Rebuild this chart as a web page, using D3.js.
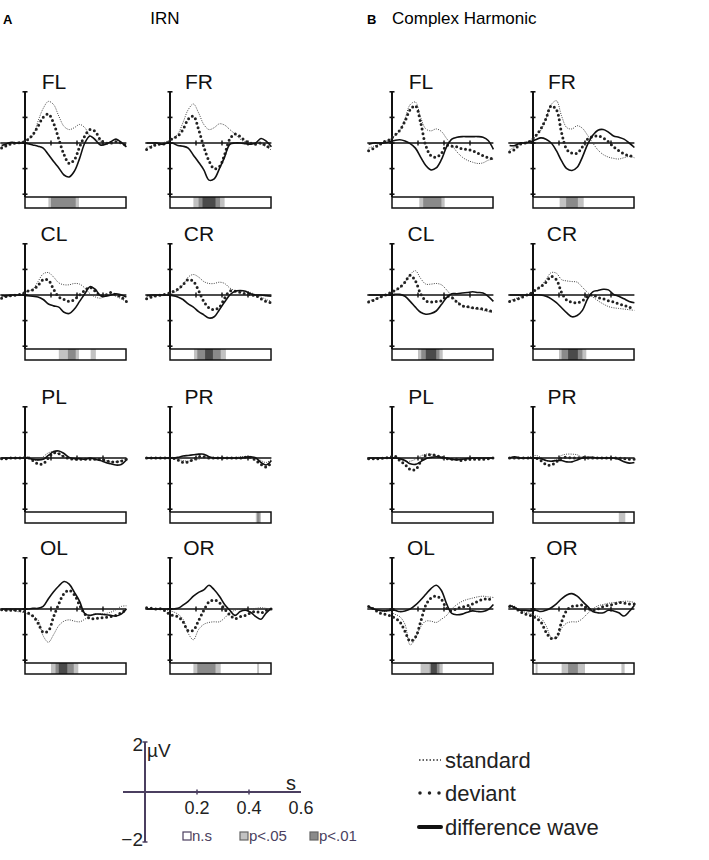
<!DOCTYPE html>
<html><head><meta charset="utf-8">
<script src="https://cdn.jsdelivr.net/npm/d3@7"></script>
<style>body{margin:0;background:#fff}svg{display:block;font-family:"Liberation Sans",Arial,sans-serif}</style>
</head><body>
<script>
const times=[-0.18,-0.14,-0.10,-0.06,-0.02,0.02,0.06,0.10,0.14,0.18,0.22,0.26,0.30,0.34,0.38,0.42,0.46,0.50,0.54,0.58,0.62,0.66,0.70,0.74,0.78];
const electrodes=["FL","FR","CL","CR","PL","PR","OL","OR"];
const conditions=["IRN","Complex Harmonic"];
const conditionLetters=["A","B"];

// IRN (panel A), order = electrodes
const irnStandard=[
[-0.3,-0.1,0,0.05,0.1,0.3,0.55,1.7,2.7,3.25,3.0,2.1,1.3,1.05,1.2,1.45,1.2,0.55,0.3,0.15,0,0.1,0.25,0,-0.3],
[-0.35,-0.2,-0.05,0,0.15,0.35,0.7,1.6,2.6,3.05,2.35,1.45,1.05,1.2,1.5,1.4,1.05,0.7,0.3,0.05,0,0,-0.1,-0.3,-0.55],
[-0.15,-0.1,-0.05,0,0.1,0.3,0.45,1.05,1.65,1.75,1.4,0.95,0.8,0.8,0.9,0.85,0.55,0.1,-0.15,-0.25,-0.05,0,-0.1,-0.3,-0.5],
[-0.15,-0.1,-0.05,-0.05,0,0.15,0.35,0.8,1.4,1.6,1.4,1.05,0.9,0.9,1.0,0.9,0.55,0.35,0.3,0.3,0.2,0,-0.15,-0.35,-0.5],
[0,0,0,0,0,0.1,-0.1,-0.2,0.1,0.4,0.5,0.3,0.1,0,0,0,0,0,0,0,-0.2,-0.3,-0.3,-0.2,-0.1],
[0,0,0,0,0,0.05,-0.1,-0.2,-0.25,-0.15,-0.1,0,0,0,0,0,0,0,0.1,0.1,0.1,0.05,-0.2,-0.35,-0.1],
[-0.1,-0.1,-0.1,-0.2,-0.25,-0.4,-0.55,-0.85,-2.1,-2.6,-2.0,-1.3,-0.95,-0.85,-0.95,-1.0,-0.8,-0.5,-0.4,-0.4,-0.35,-0.25,-0.05,0.2,0.25],
[0,0,0,0,-0.1,-0.2,-0.4,-0.8,-1.9,-2.4,-1.6,-1.2,-1.05,-1.0,-1.0,-0.7,-0.3,-0.1,0,0,0,0.05,0.1,0.05,0]
];
const irnDeviant=[
[-0.4,-0.2,-0.05,0,0.05,0.25,0.65,1.3,2.0,2.25,1.55,0.3,-0.9,-1.6,-1.3,-0.3,0.55,1.05,0.9,0.25,0,0,0.1,0,-0.2],
[-0.5,-0.3,-0.1,-0.1,0,0.35,0.55,1.05,1.85,2.1,1.05,-0.3,-1.4,-2.0,-1.85,-0.9,0.3,0.7,0.5,0.15,0,-0.1,0,-0.2,-0.45],
[-0.25,-0.1,-0.05,0,0.1,0.3,0.4,0.75,1.2,1.15,0.45,-0.15,-0.35,-0.5,-0.35,0,0.35,0.6,0.3,-0.05,0,0.2,0,-0.15,-0.5],
[-0.3,-0.15,-0.05,0,0.1,0.25,0.45,0.8,1.2,1.05,0.35,-0.5,-1.0,-1.15,-0.95,-0.25,0.3,0.3,0.2,0.1,0,-0.05,-0.3,-0.5,-0.6],
[-0.05,-0.05,0,0,0,0.05,-0.2,-0.45,-0.45,0,0.4,0.35,0.1,-0.05,-0.1,-0.1,-0.1,-0.1,-0.1,-0.1,-0.2,-0.3,-0.3,-0.25,-0.1],
[0,0,0,0,0,0,-0.15,-0.35,-0.3,-0.1,0.1,0.1,0,0,0,0,0,0,0,0.05,0.05,-0.2,-0.5,-0.7,-0.35],
[-0.05,-0.1,-0.1,-0.1,-0.15,-0.3,-0.55,-1.1,-1.8,-1.7,-0.6,0.4,1.2,1.45,1.1,0.3,-0.4,-0.75,-0.75,-0.7,-0.65,-0.6,-0.5,-0.3,-0.05],
[0.1,0.05,0,0,-0.3,-0.5,-0.6,-1.0,-1.7,-1.65,-0.9,-0.1,0.55,0.7,0.5,0,-0.45,-0.75,-0.6,-0.5,-0.3,-0.2,-0.3,-0.1,0]
];
const irnDifference=[
[-0.2,-0.05,0.05,0,0,-0.05,-0.15,-0.25,-0.4,-0.9,-1.45,-1.95,-2.5,-2.65,-2.2,-1.2,0,0.55,0.25,-0.15,-0.1,0.1,0.3,0.05,-0.3],
[0,0,0,-0.1,0,0,-0.2,-0.25,-0.4,-0.95,-1.5,-2.1,-2.9,-2.8,-2.0,-1.1,-0.1,0,0,-0.05,-0.1,0,0.35,0.15,-0.3],
[-0.05,-0.05,0,0,0,-0.05,-0.1,-0.15,-0.35,-0.7,-0.85,-0.95,-1.35,-1.45,-1.1,-0.5,0.1,0.65,0.45,-0.05,-0.1,0,0.1,0,-0.15],
[-0.05,0,0,0,0,-0.05,-0.15,-0.35,-0.7,-0.95,-1.3,-1.55,-1.8,-1.7,-1.15,-0.55,0,0.3,0.35,0.3,0.1,0,0,-0.05,-0.1],
[0,0,0,0,0,0,-0.1,-0.15,-0.1,0.2,0.5,0.55,0.35,0.05,-0.05,-0.05,-0.1,0,-0.1,-0.2,-0.35,-0.45,-0.55,-0.5,-0.15],
[0,0,0,0,0,0,0.05,0.15,0.2,0.25,0.3,0.3,0.1,0,0,0,0,0,0,0.05,0.1,0,-0.35,-0.55,-0.2],
[0,0,0,0,0,0,0.05,0.05,0.2,0.8,1.35,1.8,2.15,1.95,1.3,0.6,-0.35,-0.5,-0.4,-0.4,-0.45,-0.5,-0.55,-0.4,0],
[0,0,0,0,0,0,0.05,0.3,0.6,1.0,1.3,1.5,1.85,1.5,1.0,0.35,-0.1,-0.5,-0.2,-0.1,-0.25,-0.6,-0.8,-0.3,0.05]
];
// Complex Harmonic (panel B)
const chStandard=[
[-0.4,-0.25,-0.1,0.1,0.25,0.55,0.95,1.9,3.0,3.2,2.0,1.1,0.95,1.1,0.9,0.35,-0.15,-0.7,-1.1,-1.35,-1.5,-1.6,-1.55,-1.35,-1.25],
[-0.55,-0.3,-0.1,0.05,0.2,0.5,1.0,1.9,3.0,3.3,2.1,1.2,1.1,1.35,1.15,0.6,0,-0.55,-0.9,-1.1,-1.2,-1.25,-1.15,-1.05,-1.15],
[-0.45,-0.35,-0.2,-0.05,0.1,0.3,0.55,1.0,1.6,1.9,1.3,0.85,0.85,0.9,0.8,0.4,-0.1,-0.5,-0.8,-0.95,-1.05,-1.1,-1.2,-1.3,-1.35],
[-0.45,-0.3,-0.15,0,0.15,0.35,0.7,1.2,1.75,1.7,1.2,1.1,1.05,1.0,0.6,0.2,-0.15,-0.45,-0.7,-0.9,-1.0,-1.05,-1.1,-1.15,-1.2],
[0,0,0,0,0,0.05,-0.1,-0.25,-0.25,-0.1,0.15,0.3,0.3,0.2,0.1,0,-0.05,0,0,0,0,0,0,0,0],
[0,0,0,0,0.1,0.2,0.05,-0.2,-0.25,-0.1,0.2,0.3,0.3,0.25,0.05,-0.05,0,0,0,0,0,-0.1,0,0,0],
[0.15,0,-0.15,-0.2,-0.2,-0.4,-0.6,-1.2,-2.8,-2.3,-1.4,-0.95,-0.95,-1.05,-0.8,-0.5,0,0.35,0.6,0.75,0.85,0.95,1.0,0.95,0.9],
[0.3,0.2,-0.1,-0.25,-0.35,-0.5,-0.7,-1.3,-2.2,-2.3,-1.5,-1.1,-1.0,-1.0,-0.75,-0.35,0,0.25,0.35,0.45,0.5,0.55,0.6,0.6,0.5]
];
const chDeviant=[
[-0.6,-0.4,-0.15,0.1,0.25,0.6,1.0,1.7,2.6,2.9,1.6,-0.2,-1.0,-1.1,-0.8,-0.2,-0.25,-0.3,-0.45,-0.5,-0.6,-0.8,-1.0,-1.15,-1.25],
[-0.7,-0.5,-0.1,0,0.15,0.55,1.1,1.9,2.9,2.6,0.8,-0.5,-0.8,-0.8,-0.3,0.3,0.5,0.55,0.4,0.1,-0.3,-0.6,-0.85,-1.0,-1.05],
[-0.55,-0.4,-0.2,-0.05,0.15,0.35,0.6,1.0,1.55,1.1,0.1,-0.45,-0.55,-0.5,-0.45,-0.1,-0.2,-0.55,-0.85,-0.9,-1.0,-1.05,-1.1,-1.2,-1.3],
[-0.5,-0.4,-0.25,-0.05,0.1,0.4,0.65,1.0,1.45,1.2,0.2,-0.4,-0.55,-0.6,-0.45,-0.1,0,-0.2,-0.3,-0.45,-0.55,-0.7,-0.8,-0.95,-1.05],
[-0.05,-0.05,-0.05,0,0.05,0.15,-0.2,-0.5,-0.9,-0.9,-0.3,0.2,0.25,0.2,0.05,-0.05,-0.1,-0.1,-0.2,-0.1,-0.1,-0.1,-0.1,-0.05,0],
[0,0,0,0,0,0,-0.2,-0.5,-0.55,-0.3,0,0.05,0,0,0.05,0,0,0,0,0,0,0,-0.05,-0.1,-0.1],
[0.2,0,-0.3,-0.4,-0.5,-0.7,-1.0,-1.75,-2.5,-2.2,-1.0,0.3,0.85,1.0,0.75,0.05,-0.15,0.05,0.15,0.25,0.4,0.6,0.75,0.8,0.6],
[0.2,0.1,-0.2,-0.4,-0.5,-0.7,-1.0,-1.8,-2.3,-2.2,-1.0,-0.1,0.2,0.25,0.3,0.05,-0.1,0,0.2,0.3,0.35,0.5,0.45,0.4,0.4]
];
const chDifference=[
[-0.1,0,0,0,0.1,0.2,0.25,0.15,-0.05,-0.4,-1.1,-1.75,-2.1,-1.95,-1.3,-0.3,0.3,0.45,0.5,0.5,0.5,0.5,0.45,0.2,-0.5],
[-0.2,-0.2,0,0,0.1,0.25,0.4,0.3,0,-0.6,-1.4,-2.0,-2.15,-1.9,-1.1,-0.1,0.6,1.0,1.05,0.85,0.55,0.45,0.3,0,-0.35],
[0,0,0,0,0,0.05,0.05,-0.1,-0.5,-0.95,-1.35,-1.5,-1.45,-1.25,-0.75,-0.2,0.1,0.1,0.15,0.2,0.25,0.2,0.15,-0.1,-0.5],
[0,0,0,0,0,0.02,0,-0.1,-0.3,-0.6,-1.0,-1.4,-1.7,-1.6,-1.2,-0.3,0.25,0.35,0.45,0.4,0.05,-0.1,-0.3,-0.5,-0.6],
[0,0,0,0,0,0,-0.05,-0.2,-0.45,-0.5,-0.3,-0.05,0.05,0.1,0.05,0,-0.1,-0.15,-0.1,-0.05,0,0,0,0,0],
[0,0.1,0,0,0,0,-0.05,-0.2,-0.25,-0.2,-0.2,-0.3,-0.3,-0.15,0,0.05,0.05,0,0,0,0,-0.1,-0.3,-0.4,-0.35],
[0.2,0,-0.1,-0.15,-0.1,-0.1,-0.2,-0.15,0,0.3,0.7,1.15,1.6,1.85,1.45,0.4,-0.35,-0.45,-0.4,-0.25,-0.15,-0.2,-0.2,-0.05,0.35],
[0.3,0.1,-0.1,-0.1,-0.15,-0.1,-0.2,-0.1,0.1,0.4,0.8,1.1,1.2,1.0,0.6,0.2,-0.2,-0.3,-0.3,-0.1,-0.15,-0.3,-0.55,-0.2,0.3]
];
// significance segments [start s, end s, level 1=p<.05, 2=p<.01, 3=strongest]
const irnSig=[
[[0.18,0.415,1],[0.20,0.39,2]],
[[0.18,0.42,1],[0.22,0.385,2],[0.25,0.35,3]],
[[0.26,0.415,1],[0.33,0.39,2],[0.505,0.545,1]],
[[0.185,0.43,1],[0.21,0.39,2],[0.27,0.33,3]],
[],
[[0.66,0.70,1],[0.67,0.69,2]],
[[0.20,0.41,1],[0.235,0.375,2],[0.26,0.325,3]],
[[0.18,0.39,1],[0.21,0.35,2],[0.67,0.685,1]]
];
const chSig=[
[[0.21,0.405,1],[0.24,0.38,2]],
[[0.205,0.39,1],[0.255,0.345,2]],
[[0.20,0.39,1],[0.225,0.365,2],[0.26,0.34,3]],
[[0.20,0.41,1],[0.22,0.38,2],[0.27,0.345,3]],
[],
[[0.66,0.71,1]],
[[0.22,0.39,1],[0.29,0.365,2],[0.30,0.345,3]],
[[0.02,0.035,1],[0.22,0.40,1],[0.27,0.345,2],[0.68,0.705,1]]
];
const panelXTicks=[0.2,0.4,0.6];
const panelYTicks=[-4,-2,0,2,4];
const scaleXTicks=[0.2,0.4,0.6];
const scaleYTicks=[2,-2];
const sigLegendLabels=["n.s","p<.05","p<.01"];
const lineLegendLabels=["standard","deviant","difference wave"];

const sigColors=["#ffffff","#c2c2c2","#8a8a8a","#4a4a4a"];
const W=709,H=860;
const svg=d3.select("body").append("svg").attr("width",W).attr("height",H);

// headers
const headerX=[[3,165],[367,392]];
conditions.forEach((c,ci)=>{
  svg.append("text").attr("x",headerX[ci][0]).attr("y",24).attr("font-size",13).attr("font-weight","bold").text(conditionLetters[ci]);
  svg.append("text").attr("x",headerX[ci][1]).attr("y",24).attr("font-size",17)
    .attr("text-anchor",ci===0?"middle":"start").text(c);
});

const colX=[25,170,392,533];
const rowY=[143,295,458,609];
const x=d3.scaleLinear().domain([0,0.6]).range([0,78]);
const y=d3.scaleLinear().domain([-4,4]).range([51.2,-51.2]);
const line=d3.line().x((d,i)=>x(times[i])).y(d=>y(d)).curve(d3.curveCatmullRom.alpha(0.5));

const sets=[[irnStandard,irnDeviant,irnDifference,irnSig],[chStandard,chDeviant,chDifference,chSig]];
sets.forEach((set,ci)=>{
  electrodes.forEach((el,ei)=>{
    const col=ci*2+(ei%2), row=Math.floor(ei/2);
    const g=svg.append("g").attr("transform",`translate(${colX[col]},${rowY[row]})`);
    const barTop=54, barH=11;
    // x axis
    g.append("line").attr("x1",x(-0.19)).attr("x2",x(0.78)).attr("y1",0).attr("y2",0).attr("stroke","#111").attr("stroke-width",1.6);
    g.selectAll(".xt").data(panelXTicks).join("line").attr("x1",d=>x(d)).attr("x2",d=>x(d)).attr("y1",-2.5).attr("y2",2.5).attr("stroke","#111").attr("stroke-width",1.4);
    // y axis
    g.append("line").attr("x1",0).attr("x2",0).attr("y1",y(4)).attr("y2",barTop).attr("stroke","#111").attr("stroke-width",2);
    g.selectAll(".yt").data(panelYTicks).join("line").attr("x1",-2.5).attr("x2",2.5).attr("y1",d=>y(d)).attr("y2",d=>y(d)).attr("stroke","#111").attr("stroke-width",1.6);
    // curves
    g.append("path").attr("d",line(set[0][ei])).attr("fill","none").attr("stroke","#444").attr("stroke-width",1).attr("stroke-dasharray","1 1.3");
    g.append("path").attr("d",line(set[1][ei])).attr("fill","none").attr("stroke","#222").attr("stroke-width",3).attr("stroke-linecap","round").attr("stroke-dasharray","0 4.6");
    g.append("path").attr("d",line(set[2][ei])).attr("fill","none").attr("stroke","#111").attr("stroke-width",1.6);
    // label
    g.append("text").attr("x",29).attr("y",-54).attr("text-anchor","middle").attr("font-size",21).attr("fill","#111").text(el);
    // significance bar
    g.append("rect").attr("x",0).attr("y",barTop).attr("width",x(0.777)).attr("height",barH).attr("fill","#fff");
    g.selectAll(".seg").data(set[3][ei]).join("rect").attr("x",d=>x(d[0])).attr("width",d=>x(d[1])-x(d[0]))
      .attr("y",barTop).attr("height",barH).attr("fill",d=>sigColors[d[2]]);
    g.append("rect").attr("x",0).attr("y",barTop).attr("width",x(0.777)).attr("height",barH).attr("fill","none").attr("stroke","#111").attr("stroke-width",1.5);
  });
});

// scale legend
const axisCol="#4b3f60";
const sx=d3.scaleLinear().domain([0,0.6]).range([145,301]);
const sy=d3.scaleLinear().domain([-2,2]).range([842,742]);
svg.append("line").attr("x1",123).attr("x2",sx(0.6)).attr("y1",sy(0)).attr("y2",sy(0)).attr("stroke",axisCol).attr("stroke-width",2);
svg.append("line").attr("x1",sx(0)).attr("x2",sx(0)).attr("y1",sy(2)).attr("y2",sy(-2)).attr("stroke",axisCol).attr("stroke-width",2);
svg.selectAll(".sxt").data(scaleXTicks.slice(0,2)).join("line").attr("x1",d=>sx(d)).attr("x2",d=>sx(d)).attr("y1",sy(0)-2.5).attr("y2",sy(0)+2.5).attr("stroke",axisCol).attr("stroke-width",1.5);
svg.selectAll(".syt").data(scaleYTicks).join("line").attr("x1",sx(0)-2.5).attr("x2",sx(0)+2.5).attr("y1",d=>sy(d)).attr("y2",d=>sy(d)).attr("stroke",axisCol).attr("stroke-width",1.5);
svg.selectAll(".sxl").data(scaleXTicks).join("text").attr("x",d=>sx(d)).attr("y",814).attr("text-anchor","middle").attr("font-size",18).attr("fill","#222").text(d=>d.toFixed(1));
svg.selectAll(".syl").data(scaleYTicks).join("text").attr("x",143).attr("y",d=>d>0?751:846).attr("text-anchor","end").attr("font-size",19).attr("fill","#222").text(d=>d>0?String(d):"\u2212"+Math.abs(d));
svg.append("text").attr("x",147).attr("y",757).attr("font-size",19).attr("fill","#222").text("µV");
svg.append("text").attr("x",286).attr("y",790).attr("font-size",20).attr("fill","#222").text("s");

// significance legend
const sigLegX=[183,240,310];
sigLegendLabels.forEach((lab,i)=>{
  svg.append("rect").attr("x",sigLegX[i]).attr("y",832).attr("width",8).attr("height",8)
    .attr("fill",sigColors[i]).attr("stroke",i===0?axisCol:"#666").attr("stroke-width",1.2);
  svg.append("text").attr("x",sigLegX[i]+9).attr("y",841).attr("font-size",15).attr("fill",axisCol).text(lab);
});

// line legend
const legY=[760,793,827];
const lg=svg.append("g");
lg.append("line").attr("x1",419).attr("x2",441).attr("y1",legY[0]).attr("y2",legY[0]).attr("stroke","#333").attr("stroke-width",1.5).attr("stroke-dasharray","1.5 2");
lg.append("line").attr("x1",420).attr("x2",441).attr("y1",legY[1]).attr("y2",legY[1]).attr("stroke","#222").attr("stroke-width",3.5).attr("stroke-linecap","round").attr("stroke-dasharray","0 9.5");
lg.append("line").attr("x1",419).attr("x2",441).attr("y1",legY[2]).attr("y2",legY[2]).attr("stroke","#111").attr("stroke-width",4).attr("stroke-linecap","round");
lineLegendLabels.forEach((lab,i)=>{
  lg.append("text").attr("x",445).attr("y",legY[i]+8).attr("font-size",22).attr("fill","#222").text(lab);
});
</script>
</body></html>
